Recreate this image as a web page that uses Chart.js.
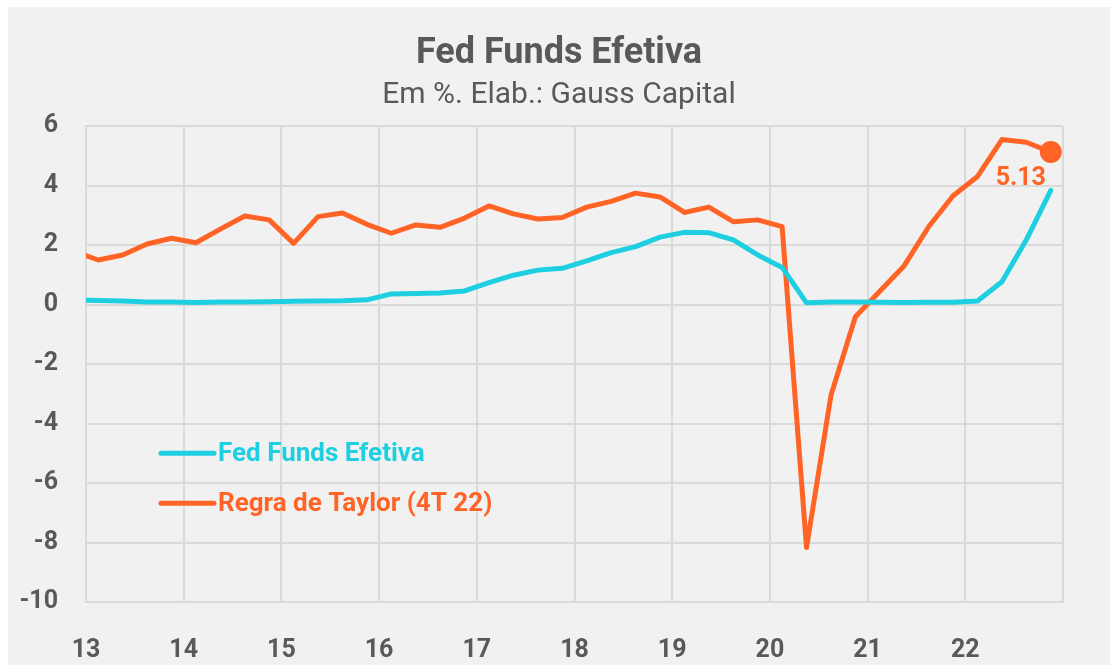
<!DOCTYPE html>
<html>
<head>
<meta charset="utf-8">
<script src="https://cdn.jsdelivr.net/npm/chart.js@4.4.1/dist/chart.umd.min.js"></script>
<style>
    html, body { margin: 0; padding: 0; background: #ffffff; }
    #box {
        position: absolute;
        left: 8px;
        top: 7px;
        width: 1102px;
        height: 658px;
        background: #f1f1f1;
    }
</style>
</head>
<body>
<div id="box"><canvas id="chart" width="1102" height="658"></canvas></div>
<script>
// quarterly data, 4T12 .. 4T22 (first point sits just before the axis start and is clipped)
const quarters = [
    '4T12',
    '1T13', '2T13', '3T13', '4T13',
    '1T14', '2T14', '3T14', '4T14',
    '1T15', '2T15', '3T15', '4T15',
    '1T16', '2T16', '3T16', '4T16',
    '1T17', '2T17', '3T17', '4T17',
    '1T18', '2T18', '3T18', '4T18',
    '1T19', '2T19', '3T19', '4T19',
    '1T20', '2T20', '3T20', '4T20',
    '1T21', '2T21', '3T21', '4T21',
    '1T22', '2T22', '3T22', '4T22'
];

const fedFunds = [
    0.16,
    0.14, 0.12, 0.09, 0.09,
    0.07, 0.09, 0.09, 0.10,
    0.11, 0.12, 0.13, 0.16,
    0.36, 0.37, 0.39, 0.46,
    0.74, 0.99, 1.16, 1.22,
    1.47, 1.75, 1.95, 2.27,
    2.43, 2.42, 2.18, 1.67,
    1.25, 0.06, 0.09, 0.09,
    0.08, 0.07, 0.08, 0.08,
    0.12, 0.77, 2.18, 3.84
];

const taylorRule = [
    1.80,
    1.50, 1.67, 2.04, 2.23,
    2.08, 2.54, 2.98, 2.85,
    2.06, 2.96, 3.08, 2.70,
    2.40, 2.68, 2.60, 2.91,
    3.32, 3.05, 2.88, 2.93,
    3.28, 3.47, 3.75, 3.62,
    3.10, 3.28, 2.79, 2.85,
    2.62, -8.17, -3.05, -0.41,
    0.45, 1.31, 2.62, 3.66,
    4.31, 5.55, 5.46, 5.13
];

const yTicks = [-10, -8, -6, -4, -2, 0, 2, 4, 6];
const xYears = [2013, 2014, 2015, 2016, 2017, 2018, 2019, 2020, 2021, 2022, 2023];

const seriesNames = ['Fed Funds Efetiva', 'Regra de Taylor (4T 22)'];
const CYAN = '#1dcfe0';
const ORANGE = '#ff6426';
const GREY_TEXT = '#595959';
const GRID = '#dadada';

// mid-quarter position on a year axis
function quarterToX(q) {
    const n = parseInt(q.charAt(0));
    const year = 2000 + parseInt(q.slice(2));
    return year + (n - 1) / 4 + 0.125;
}

function toPoints(values) {
    return values.map((v, i) => ({ x: quarterToX(quarters[i]), y: v }));
}

const lastIndex = taylorRule.length - 1;

// legend drawn inside the plot + label of the last Taylor value
const overlayPlugin = {
    id: 'overlay',
    afterDatasetsDraw(chart) {
        const ctx = chart.ctx;
        const area = chart.chartArea;
        ctx.save();

        const colors = [CYAN, ORANGE];
        const rows = [area.top + 327, area.top + 377];
        ctx.lineCap = 'round';
        ctx.font = 'bold 26px Roboto';
        ctx.textBaseline = 'middle';
        for (let i = 0; i < seriesNames.length; i++) {
            ctx.strokeStyle = colors[i];
            ctx.lineWidth = 5;
            ctx.beginPath();
            ctx.moveTo(area.left + 75, rows[i]);
            ctx.lineTo(area.left + 128, rows[i]);
            ctx.stroke();
            ctx.fillStyle = colors[i];
            ctx.fillText(seriesNames[i], area.left + 132, rows[i] + 1);
        }

        const pt = chart.getDatasetMeta(1).data[lastIndex];
        ctx.fillStyle = ORANGE;
        ctx.font = 'bold 25px Roboto';
        ctx.textAlign = 'center';
        ctx.fillText(taylorRule[lastIndex].toFixed(2), pt.x - 30, pt.y + 27);
        ctx.restore();
    }
};

const chart = new Chart(document.getElementById('chart'), {
    type: 'line',
    data: {
        datasets: [
            {
                label: seriesNames[0],
                data: toPoints(fedFunds),
                borderColor: CYAN,
                borderWidth: 5,
                borderJoinStyle: 'round',
                borderCapStyle: 'round',
                pointRadius: 0,
                tension: 0
            },
            {
                label: seriesNames[1],
                data: toPoints(taylorRule),
                borderColor: ORANGE,
                backgroundColor: ORANGE,
                borderWidth: 5,
                borderJoinStyle: 'round',
                borderCapStyle: 'round',
                pointRadius: (c) => c.dataIndex === lastIndex ? 11 : 0,
                pointBorderWidth: 0,
                tension: 0
            }
        ]
    },
    options: {
        responsive: false,
        animation: false,
        events: [],
        layout: {
            padding: 0
        },
        plugins: {
            legend: { display: false },
            tooltip: { enabled: false },
            title: {
                display: true,
                text: 'Fed Funds Efetiva',
                color: GREY_TEXT,
                font: { family: 'Roboto', size: 36, weight: 'bold' },
                padding: { top: 25, bottom: 2 }
            },
            subtitle: {
                display: true,
                text: 'Em %. Elab.: Gauss Capital',
                color: GREY_TEXT,
                font: { family: 'Roboto', size: 30, weight: 'normal' },
                padding: { top: 0, bottom: 13 }
            }
        },
        scales: {
            x: {
                type: 'linear',
                min: xYears[0],
                max: xYears[xYears.length - 1],
                afterBuildTicks: (scale) => {
                    scale.ticks = xYears.map(v => ({ value: v }));
                },
                afterFit: (scale) => { scale.height = 63; },
                ticks: {
                    color: GREY_TEXT,
                    font: { family: 'Roboto', size: 25, weight: 'bold' },
                    padding: 34,
                    maxRotation: 0,
                    autoSkip: false,
                    callback: (v) => v < 2023 ? String(v).slice(2) : ''
                },
                grid: { color: GRID, lineWidth: 2, drawTicks: false },
                border: { color: GRID, width: 2 }
            },
            y: {
                min: yTicks[0],
                max: yTicks[yTicks.length - 1],
                afterBuildTicks: (scale) => {
                    scale.ticks = yTicks.map(v => ({ value: v }));
                },
                afterFit: (scale) => { scale.width = 78; },
                ticks: {
                    color: GREY_TEXT,
                    font: { family: 'Roboto', size: 25, weight: 'bold' },
                    padding: 28
                },
                grid: { color: GRID, lineWidth: 2, drawTicks: false },
                border: { color: GRID, width: 2 }
            },
            // empty right-hand gutter so the titles stay centred on the whole box
            gutter: {
                type: 'linear',
                position: 'right',
                afterFit: (scale) => { scale.width = 47; },
                ticks: { display: false },
                grid: { display: false },
                border: { display: false }
            }
        }
    },
    plugins: [overlayPlugin]
});
</script>
</body>
</html>
